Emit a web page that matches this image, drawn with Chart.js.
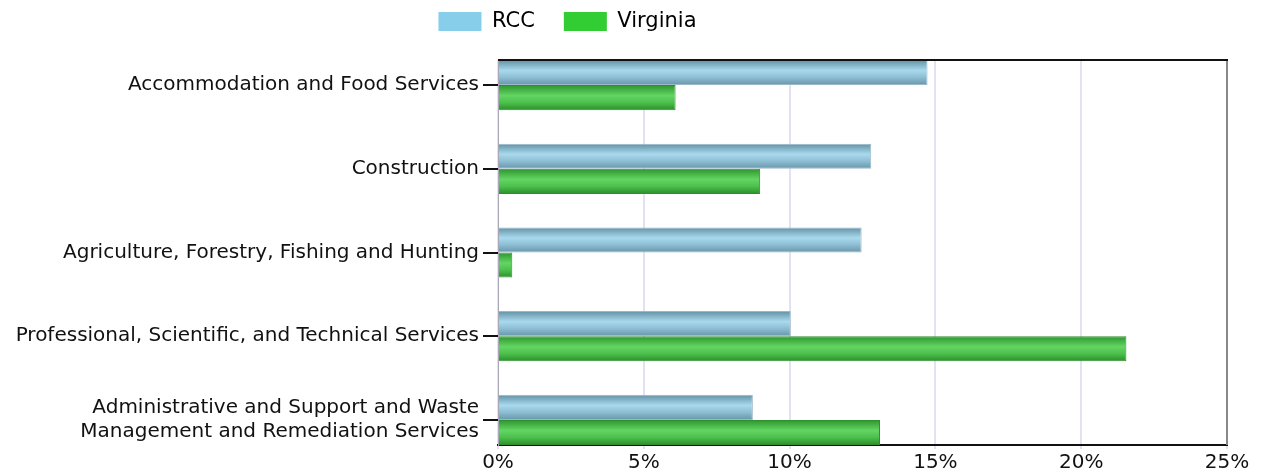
<!DOCTYPE html>
<html>
<head>
<meta charset="utf-8">
<script src="https://cdn.jsdelivr.net/npm/chart.js@4/dist/chart.umd.min.js"></script>
<style>
  html, body { margin: 0; padding: 0; background: #fff; }
  #wrap { width: 1263px; height: 476px; position: relative; }
</style>
</head>
<body>
<div id="wrap"><canvas id="industryChart"></canvas></div>
<script>
// Industry share of employment, RCC vs Virginia
const categories = [
    'Accommodation and Food Services',
    'Construction',
    'Agriculture, Forestry, Fishing and Hunting',
    'Professional, Scientific, and Technical Services',
    ['Administrative and Support and Waste', 'Management and Remediation Services']
];
const seriesNames = ['RCC', 'Virginia'];
const rccValues = [14.73, 12.8, 12.47, 10.04, 8.74];
const virginiaValues = [6.09, 8.99, 0.49, 21.55, 13.1];
const xTicks = [0, 5, 10, 15, 20, 25];

// flat colours for the legend, gradient stops for the bars
const legendColors = ['#87ceeb', '#32cd32'];
const gradStops = [
    ['#6291a6', '#a9d9ed', '#8dbdd2', '#6795aa'],
    ['#2c952c', '#63d563', '#4cbf4c', '#2a8f2a']
];
const borderColors = ['#9cb8c8', '#2e8f2e'];

Chart.defaults.font.family = '"DejaVu Sans", Verdana, sans-serif';
Chart.defaults.font.size = 20;
Chart.defaults.color = '#111';

const categoryPct = 0.6;
const indexTicks = categories.map((c, i) => i);

function toPoints(values) {
    return values.map((v, i) => ({ x: v, y: i }));
}

function barFill(context, dsIndex) {
    const chart = context.chart;
    const yScale = chart.scales.y;
    if (!yScale || context.type !== 'data') return legendColors[dsIndex];
    const center = yScale.getPixelForValue(context.dataIndex);
    const half = Math.abs(yScale.getPixelForValue(1) - yScale.getPixelForValue(0)) * categoryPct / 2;
    if (!isFinite(center) || !isFinite(half) || half <= 0) return legendColors[dsIndex];
    const top = dsIndex === 0 ? center - half : center;
    const g = chart.ctx.createLinearGradient(0, top, 0, top + half);
    const s = gradStops[dsIndex];
    g.addColorStop(0, s[0]);
    g.addColorStop(0.42, s[1]);
    g.addColorStop(0.7, s[2]);
    g.addColorStop(1, s[3]);
    return g;
}

// frame lines on top and right of the plot area, and legend nudge
const framePlugin = {
    id: 'frame',
    afterLayout(chart) {
        if (chart.legend) {
            chart.legend.left -= 46;
            chart.legend.right -= 46;
            chart.legend.top -= 18;
            chart.legend.bottom -= 18;
        }
    },
    afterDraw(chart) {
        const a = chart.chartArea;
        const c = chart.ctx;
        c.save();
        c.lineWidth = 2;
        c.strokeStyle = '#888';
        c.beginPath();
        c.moveTo(a.right, a.top);
        c.lineTo(a.right, a.bottom);
        c.stroke();
        c.strokeStyle = '#111';
        c.beginPath();
        c.moveTo(a.left, a.top);
        c.lineTo(a.right + 1, a.top);
        c.stroke();
        c.restore();
    }
};

const ctx = document.getElementById('industryChart').getContext('2d');
const industryChart = new Chart(ctx, {
    type: 'bar',
    data: {
        datasets: [{
            label: seriesNames[0],
            data: toPoints(rccValues),
            backgroundColor: (c) => barFill(c, 0),
            borderColor: borderColors[0],
            borderWidth: 1,
            categoryPercentage: categoryPct,
            barPercentage: 1.0
        }, {
            label: seriesNames[1],
            data: toPoints(virginiaValues),
            backgroundColor: (c) => barFill(c, 1),
            borderColor: borderColors[1],
            borderWidth: 1,
            categoryPercentage: categoryPct,
            barPercentage: 1.0
        }]
    },
    options: {
        indexAxis: 'y',
        responsive: true,
        maintainAspectRatio: false,
        animation: false,
        layout: { padding: { top: 0, right: 36, bottom: 0, left: 0 } },
        scales: {
            x: {
                type: 'linear',
                min: xTicks[0],
                max: xTicks[xTicks.length - 1],
                afterBuildTicks: (scale) => { scale.ticks = xTicks.map(v => ({ value: v })); },
                ticks: {
                    callback: (v) => v + '%',
                    padding: 2,
                    maxRotation: 0
                },
                grid: {
                    color: '#e2e2f2',
                    lineWidth: 2,
                    tickLength: 4
                },
                border: { color: '#111', width: 2 },
                afterFit: (scale) => { scale.height = 31; }
            },
            y: {
                type: 'linear',
                reverse: true,
                offset: false,
                min: -categoryPct / 2,
                max: categories.length - 1 + categoryPct / 2,
                afterBuildTicks: (scale) => { scale.ticks = indexTicks.map(v => ({ value: v })); },
                ticks: {
                    padding: 4,
                    callback: (v) => categories[v]
                },
                grid: {
                    offset: false,
                    drawOnChartArea: false,
                    color: '#111',
                    lineWidth: 2,
                    tickLength: 15
                },
                border: { color: '#a8a8b8', width: 1 },
                afterFit: (scale) => { scale.width = 498; }
            }
        },
        plugins: {
            legend: {
                position: 'top',
                labels: {
                    boxWidth: 43,
                    boxHeight: 19,
                    padding: 29,
                    color: '#111',
                    font: { size: 21 },
                    generateLabels: (chart) => seriesNames.map((name, i) => ({
                        text: name,
                        fillStyle: legendColors[i],
                        strokeStyle: legendColors[i],
                        lineWidth: 0,
                        datasetIndex: i
                    }))
                }
            },
            tooltip: { enabled: false }
        }
    },
    plugins: [framePlugin]
});
</script>
</body>
</html>
